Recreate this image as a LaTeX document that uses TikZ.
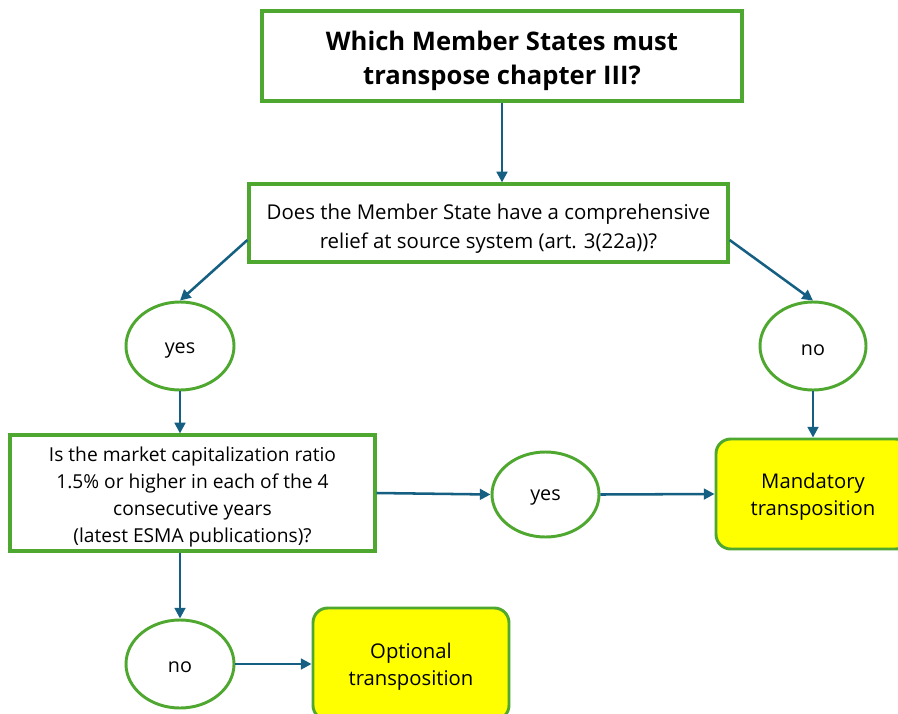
\documentclass[tikz,border=0pt]{standalone}
\usepackage{fontspec}
\setmainfont{Open Sans}
\usetikzlibrary{arrows.meta,shapes.geometric,calc}
\definecolor{boxgreen}{RGB}{78,167,46}
\definecolor{arrowblue}{RGB}{21,96,130}
\definecolor{hiyellow}{RGB}{255,255,0}
\newcommand{\dnlines}[2]{\raisebox{-#1}[\height][\depth]{\begin{tabular}{@{}c@{}}#2\end{tabular}}}
\newcommand{\dnword}[2]{\raisebox{-#1}[\height][\depth]{#2}}
\begin{document}
\begin{tikzpicture}[x=0.75pt,y=-0.75pt,
  qbox/.style={draw=boxgreen,line width=2.4pt,fill=white,rectangle,align=center,inner sep=0pt},
  oval/.style={draw=boxgreen,line width=2.2pt,fill=white,ellipse,inner sep=0pt,minimum width=81pt,minimum height=66pt,font=\fontsize{14.8}{18}\selectfont},
  result/.style={draw=boxgreen,line width=2.2pt,fill=hiyellow,rectangle,rounded corners=11pt,align=center,inner sep=0pt,font=\fontsize{15.2}{20}\selectfont},
  arr/.style={draw=arrowblue,line width=1.9pt,-{Triangle[length=8pt,width=8pt]}}]
\useasboundingbox (0,0) rectangle (898,713);
\clip (0,0) rectangle (898,713);
\fill[white] (0,0) rectangle (898,713);
\node[qbox,minimum width=360pt,minimum height=67.5pt,font=\fontsize{19.2}{25.5}\selectfont\bfseries] (title) at (502,56) {\dnlines{3.6pt}{Which Member States must\\transpose chapter III?}};
\node[qbox,minimum width=359.25pt,minimum height=58.5pt,font=\fontsize{15.3}{21.75}\selectfont] (q1) at (488.5,223) {\dnlines{3.6pt}{Does the Member State have a comprehensive\\relief at source system (art. 3(22a))?}};
\node[oval] (yes1) at (180,346) {\dnword{3pt}{yes}};
\node[oval,minimum width=79.5pt] (no1) at (813,346) {\dnword{3pt}{no}};
\node[qbox,minimum width=273.75pt,minimum height=87pt,font=\fontsize{14.4}{20.25}\selectfont] (q2) at (192.5,493) {\dnlines{2.4pt}{Is the market capitalization ratio\\1.5\% or higher in each of the 4\\consecutive years\\(latest ESMA publications)?}};
\node[oval,minimum width=80.25pt,minimum height=63.75pt] (yes2) at (545.5,494.5) {\dnword{2.6pt}{yes}};
\node[result,minimum width=145.5pt,minimum height=82.5pt] (mand) at (813,494) {\dnlines{2.2pt}{Mandatory\\transposition}};
\node[oval] (no2) at (180,664) {\dnword{2.6pt}{no}};
\node[result,minimum width=147pt,minimum height=84pt] (opt) at (411,664) {\dnlines{2.2pt}{Optional\\transposition}};
\draw[arr] (title.south) -- (title.south |- q1.north);
\draw[arr] ([yshift=-12.75pt]q1.west) -- (yes1.north);
\draw[arr] ([yshift=-12.75pt]q1.east) -- (no1.north);
\draw[arr] (yes1.south) -- (yes1.south |- q2.north);
\draw[arr] (no1.south) -- (mand.north);
\draw[arr] (q2.east) -- (yes2.west);
\draw[arr] (yes2.east) -- (mand.west);
\draw[arr] (no2.north |- q2.south) -- (no2.north);
\draw[arr] (no2.east) -- (opt.west);
\end{tikzpicture}
\end{document}
